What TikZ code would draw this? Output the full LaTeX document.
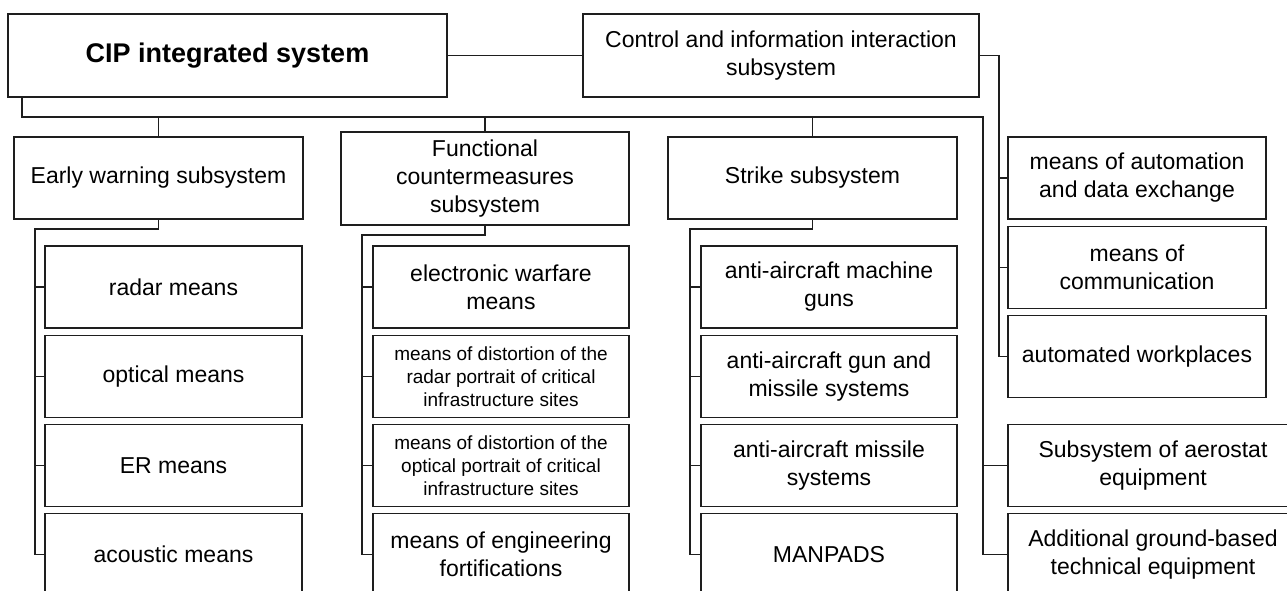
\documentclass[tikz,border=0pt]{standalone}
\usepackage{fontspec}
\setmainfont{Liberation Sans}
\newcommand\mfont{\fontsize{23}{28}\selectfont}
\newcommand\sfont{\fontsize{19}{23.3}\selectfont}
\newcommand\bfont{\fontsize{27}{32}\selectfont\bfseries}
\definecolor{ink}{HTML}{1E1E1E}
\tikzset{
  box/.style={draw=ink, line width=1.7pt, rectangle, inner sep=0pt, align=center, text=black, font=\mfont, fill=white},
  small/.style={font=\sfont},
  conn/.style={draw=ink, line width=1.4pt, line cap=rect},
}
\begin{document}
\begin{tikzpicture}[x=1pt,y=-1pt]
\useasboundingbox[fill=white] (0,0) rectangle (1287,590);

% top row
\node[box, font=\bfont, minimum width=439pt, minimum height=83pt] (cip) at (227.5,55.5) {CIP integrated system};
\node[box, minimum width=396pt, minimum height=83pt] (ctrl) at (781,55.5) {Control and information interaction\\subsystem};

% subsystems
\node[box, minimum width=289pt, minimum height=82pt] (ew) at (158.5,178) {Early warning subsystem};
\node[box, minimum width=288pt, minimum height=93pt] (fc) at (485,178.5) {Functional\\countermeasures\\subsystem};
\node[box, minimum width=289pt, minimum height=82pt] (st) at (812.5,178) {Strike subsystem};

% early warning children
\node[box, minimum width=257pt, minimum height=82pt] (ew1) at (173.5,287) {radar means};
\node[box, minimum width=257pt, minimum height=82pt] (ew2) at (173.5,376.5) {optical means};
\node[box, minimum width=257pt, minimum height=82pt] (ew3) at (173.5,465.5) {ER means};
\node[box, minimum width=257pt, minimum height=82pt] (ew4) at (173.5,554.5) {acoustic means};

% functional children
\node[box, minimum width=256pt, minimum height=82pt] (fc1) at (501,287) {electronic warfare\\means};
\node[box, small, minimum width=256pt, minimum height=82pt] (fc2) at (501,376.5) {means of distortion of the\\radar portrait of critical\\infrastructure sites};
\node[box, small, minimum width=256pt, minimum height=82pt] (fc3) at (501,465.5) {means of distortion of the\\optical portrait of critical\\infrastructure sites};
\node[box, minimum width=256pt, minimum height=82pt] (fc4) at (501,554.5) {means of engineering\\fortifications};

% strike children
\node[box, minimum width=256pt, minimum height=82pt] (st1) at (829,287) {anti-aircraft machine\\guns};
\node[box, minimum width=256pt, minimum height=82pt] (st2) at (829,376.5) {anti-aircraft gun and\\missile systems};
\node[box, minimum width=256pt, minimum height=82pt] (st3) at (829,465.5) {anti-aircraft missile\\systems};
\node[box, minimum width=256pt, minimum height=82pt] (st4) at (829,554.5) {MANPADS};

% control children
\node[box, minimum width=258pt, minimum height=82pt] (ci1) at (1137,178) {means of automation\\and data exchange};
\node[box, minimum width=258pt, minimum height=82pt] (ci2) at (1137,267.5) {means of\\communication};
\node[box, minimum width=258pt, minimum height=82pt] (ci3) at (1137,356.5) {automated workplaces};

% extra subsystems
\node[box, minimum width=290pt, minimum height=82pt] (aero) at (1153,465.5) {Subsystem of aerostat\\equipment};
\node[box, minimum width=290pt, minimum height=82pt] (add) at (1153,554.5) {Additional ground-based\\technical equipment};

% junction coordinates
\coordinate (busL) at (22,117);
\coordinate (busR) at (983,117);
\coordinate (ewv) at (35,229);
\coordinate (fcv) at (362,235);
\coordinate (stv) at (690,229);
\coordinate (civ) at (999,55.5);

% connectors
\draw[conn] (cip.east) -- (ctrl.west);
\draw[conn] (cip.south -| busL) -- (busL) -- (busR) |- (add.west);
\draw[conn] (busR |- aero.west) -- (aero.west);
\draw[conn] (ew.north) -- (ew.north |- busL);
\draw[conn] (fc.north) -- (fc.north |- busL);
\draw[conn] (st.north) -- (st.north |- busL);

\draw[conn] (ew.south) -- (ew.south |- ewv) -- (ewv) |- (ew4.west);
\draw[conn] (ewv |- ew1.west) -- (ew1.west);
\draw[conn] (ewv |- ew2.west) -- (ew2.west);
\draw[conn] (ewv |- ew3.west) -- (ew3.west);

\draw[conn] (fc.south) -- (fc.south |- fcv) -- (fcv) |- (fc4.west);
\draw[conn] (fcv |- fc1.west) -- (fc1.west);
\draw[conn] (fcv |- fc2.west) -- (fc2.west);
\draw[conn] (fcv |- fc3.west) -- (fc3.west);

\draw[conn] (st.south) -- (st.south |- stv) -- (stv) |- (st4.west);
\draw[conn] (stv |- st1.west) -- (st1.west);
\draw[conn] (stv |- st2.west) -- (st2.west);
\draw[conn] (stv |- st3.west) -- (st3.west);

\draw[conn] (ctrl.east) -- (civ) |- (ci3.west);
\draw[conn] (civ |- ci1.west) -- (ci1.west);
\draw[conn] (civ |- ci2.west) -- (ci2.west);
\end{tikzpicture}
\end{document}
